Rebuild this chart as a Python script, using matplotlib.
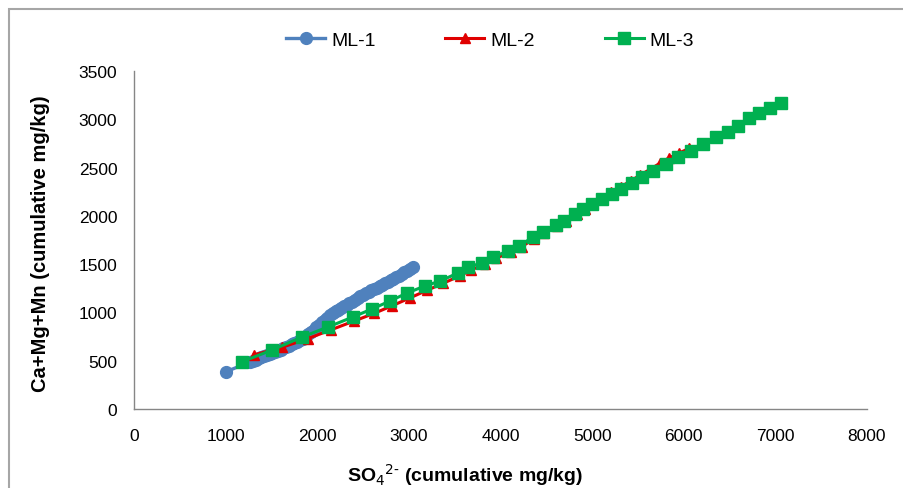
import matplotlib
matplotlib.use("Agg")
import matplotlib.pyplot as plt
from matplotlib.patches import Rectangle

plt.rcParams['font.family'] = ['Liberation Sans', 'DejaVu Sans']

# ML-1 column: cumulative sulfate vs cumulative Ca+Mg+Mn (mg/kg)
ml1_so4 = [1000, 1270, 1300, 1330, 1360, 1390, 1420, 1450, 1480, 1510, 1540,
           1570, 1600, 1630, 1660, 1690, 1720, 1750, 1780, 1810, 1840, 1870,
           1900, 1930, 1960, 1990, 2020, 2050, 2080, 2110, 2140, 2170, 2200,
           2230, 2260, 2290, 2320, 2350, 2380, 2410, 2440, 2470, 2500, 2530,
           2560, 2590, 2620, 2650, 2680, 2710, 2740, 2770, 2800, 2830, 2860,
           2890, 2920, 2950, 2980, 3010, 3040]
ml1_cat = [385, 488, 500, 512, 524, 535, 546, 557, 568, 580, 591,
           603, 615, 628, 642, 655, 668, 681, 695, 710, 726, 748,
           772, 797, 822, 847, 872, 897, 922, 946, 970, 992, 1010,
           1028, 1045, 1062, 1078, 1095, 1112, 1130, 1147, 1165, 1182, 1198,
           1214, 1229, 1244, 1258, 1272, 1286, 1301, 1316, 1331, 1347, 1364,
           1381, 1398, 1415, 1432, 1450, 1470]

# ML-2 column
ml2_so4 = [1310, 1620, 1900, 2150, 2400, 2620, 2820, 3010, 3200, 3370, 3560,
           3680, 3830, 3950, 4110, 4230, 4370, 4480, 4620, 4710, 4830, 4920,
           5010, 5110, 5210, 5310, 5420, 5520, 5630, 5740, 5840, 5950, 6060]
ml2_cat = [560, 640, 730, 820, 910, 990, 1070, 1150, 1230, 1300, 1380,
           1440, 1500, 1560, 1625, 1680, 1765, 1825, 1900, 1945, 2020, 2075,
           2135, 2190, 2245, 2300, 2360, 2420, 2480, 2545, 2600, 2650, 2700]

# ML-3 column
ml3_so4 = [1180, 1506, 1834, 2117, 2390, 2598, 2794, 2980, 3176, 3340, 3536,
           3645, 3798, 3918, 4082, 4202, 4355, 4464, 4606, 4693, 4813, 4900,
           4999, 5108, 5217, 5315, 5435, 5544, 5664, 5806, 5937, 6079, 6210,
           6352, 6483, 6592, 6712, 6821, 6941, 7061]
ml3_cat = [490, 611, 745, 849, 953, 1036, 1118, 1201, 1274, 1325, 1408,
           1470, 1512, 1574, 1636, 1688, 1781, 1833, 1905, 1947, 2019, 2071,
           2123, 2175, 2226, 2278, 2340, 2402, 2464, 2537, 2609, 2672, 2744,
           2817, 2868, 2930, 3013, 3065, 3117, 3165]

x_ticks = [0, 1000, 2000, 3000, 4000, 5000, 6000, 7000, 8000]
y_ticks = [0, 500, 1000, 1500, 2000, 2500, 3000, 3500]

W, H = 904, 489
fig = plt.figure(figsize=(W / 100, H / 100), dpi=100)
fig.patch.set_facecolor('white')

# outer chart border
fig.patches.append(Rectangle((9 / W, -0.1), 1.2, 1 - 10 / H + 0.1,
                             transform=fig.transFigure, fill=False,
                             edgecolor='#a6a6a6', linewidth=1.5))

ax = fig.add_axes([134 / W, 1 - 410 / H, (867 - 134) / W, (410 - 72) / H])

l1, = ax.plot(ml1_so4, ml1_cat, color='#4f81bd', marker='o', markersize=8.5,
              linewidth=2.4, label='ML-1', zorder=3)
l2, = ax.plot(ml2_so4, ml2_cat, color='#e00000', marker='^', markersize=6.5,
              linewidth=2.2, label='ML-2', zorder=4)
l3, = ax.plot(ml3_so4, ml3_cat, color='#00b050', marker='s', markersize=8,
              linewidth=2.2, label='ML-3', zorder=5)

ax.set_xlim(0, 8000)
ax.set_ylim(0, 3500)
ax.set_xticks(x_ticks)
ax.set_yticks(y_ticks)
ax.tick_params(axis='both', length=0, labelsize=12.5, colors='#000000')
ax.tick_params(axis='y', pad=12)
ax.tick_params(axis='x', pad=14)
for s in ['top', 'right']:
    ax.spines[s].set_visible(False)
for s in ['left', 'bottom']:
    ax.spines[s].set_color('#868686')
    ax.spines[s].set_linewidth(1.0)

ax.set_xlabel(r'SO$_4$$^{2\text{-}}$ (cumulative mg/kg)', fontsize=14,
              fontweight='bold')
ax.xaxis.set_label_coords((465 - 134) / 733, -(475 - 410) / 338)
ax.xaxis.label.set_va('center')
ax.set_ylabel('Ca+Mg+Mn (cumulative mg/kg)', fontsize=14.5, fontweight='bold')
ax.yaxis.set_label_coords(-(134 - 40) / 733, (410 - 244) / 338)
ax.yaxis.label.set_va('center')

fig.legend(handles=[l1, l2, l3], loc='center', bbox_to_anchor=(490 / W, 1 - 41 / H),
           ncol=3, frameon=False, fontsize=14, handlelength=2.0,
           handletextpad=0.3, columnspacing=3.6)

fig.savefig('out.png', dpi=100, facecolor='white')
